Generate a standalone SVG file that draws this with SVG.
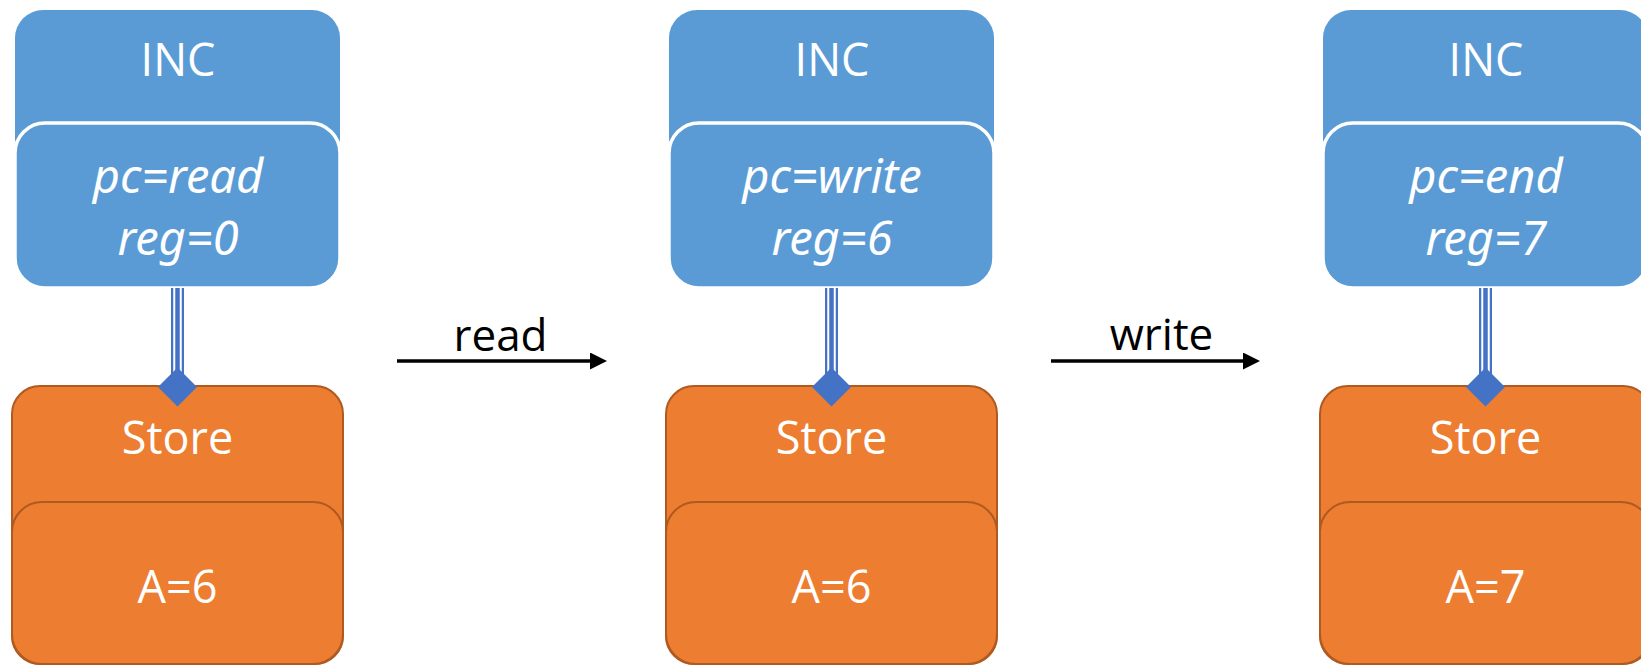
<svg xmlns="http://www.w3.org/2000/svg" width="1641" height="667" viewBox="0 0 1641 667">
  <style>
    .inc-outer { fill: #5B9BD5; }
    .inc-inner { fill: #5B9BD5; stroke: #FFFFFF; stroke-width: 3.5; }
    .store-outer { fill: #ED7D31; stroke: #AE5A21; stroke-width: 2; }
    .store-inner { fill: #ED7D31; stroke: #AE5A21; stroke-width: 2; }
    .label { font-family: "Open Sans", "Noto Sans", sans-serif; font-size: 45px; fill: #FFFFFF; text-anchor: middle; }
    .state { font-family: "Noto Sans", "Open Sans", sans-serif; font-style: italic; font-size: 47px; }
    .edge-label { font-family: "Open Sans", "Noto Sans", sans-serif; font-size: 44px; fill: #000000; text-anchor: middle; }
    .link-outer { stroke: #4472C4; stroke-width: 13; fill: none; }
    .link-gap { stroke: #FFFFFF; stroke-width: 8.5; fill: none; }
    .link-core { stroke: #4472C4; stroke-width: 4.5; fill: none; }
    .diamond { fill: #4472C4; }
    .step { stroke: #000000; stroke-width: 3.5; fill: none; }
  </style>
  <defs>
    <marker id="arrowhead" markerUnits="userSpaceOnUse" markerWidth="18" markerHeight="18" refX="0" refY="8.5" orient="auto">
      <path d="M0,0 L17,8.5 L0,17 Z" fill="#000000"/>
    </marker>
  </defs>

  <!-- Snapshot 1 -->
  <g id="inc-1">
    <rect class="inc-outer" x="15" y="10" width="325" height="278" rx="28"/>
    <rect class="inc-inner" x="15" y="123" width="325" height="165" rx="30"/>
    <text class="label" x="178" y="76">INC</text>
    <text class="label state" x="178" y="193">pc=read</text>
    <text class="label state" x="178" y="255">reg=0</text>
  </g>
  <g id="store-1">
    <rect class="store-outer" x="12" y="386" width="331" height="278" rx="28"/>
    <rect class="store-inner" x="12" y="502" width="331" height="162" rx="30"/>
    <text class="label" x="177.5" y="454">Store</text>
    <text class="label" x="177.5" y="603">A=6</text>
  </g>

  <!-- Snapshot 2 -->
  <g id="inc-2">
    <rect class="inc-outer" x="669" y="10" width="325" height="278" rx="28"/>
    <rect class="inc-inner" x="669" y="123" width="325" height="165" rx="30"/>
    <text class="label" x="832" y="76">INC</text>
    <text class="label state" x="832" y="193">pc=write</text>
    <text class="label state" x="832" y="255">reg=6</text>
  </g>
  <g id="store-2">
    <rect class="store-outer" x="666" y="386" width="331" height="278" rx="28"/>
    <rect class="store-inner" x="666" y="502" width="331" height="162" rx="30"/>
    <text class="label" x="831.5" y="454">Store</text>
    <text class="label" x="831.5" y="603">A=6</text>
  </g>

  <!-- Snapshot 3 -->
  <g id="inc-3">
    <rect class="inc-outer" x="1323" y="10" width="325" height="278" rx="28"/>
    <rect class="inc-inner" x="1323" y="123" width="325" height="165" rx="30"/>
    <text class="label" x="1486" y="76">INC</text>
    <text class="label state" x="1486" y="193">pc=end</text>
    <text class="label state" x="1486" y="255">reg=7</text>
  </g>
  <g id="store-3">
    <rect class="store-outer" x="1320" y="386" width="331" height="278" rx="28"/>
    <rect class="store-inner" x="1320" y="502" width="331" height="162" rx="30"/>
    <text class="label" x="1485.5" y="454">Store</text>
    <text class="label" x="1485.5" y="603">A=7</text>
  </g>

  <!-- Connectors: composition links and transition arrows -->
  <g id="connectors">
    <g id="link-1">
      <line class="link-outer" x1="177.5" y1="288" x2="177.5" y2="375"/>
      <line class="link-gap" x1="177.5" y1="288" x2="177.5" y2="375"/>
      <line class="link-core" x1="177.5" y1="288" x2="177.5" y2="375"/>
      <polygon class="diamond" points="177.5,367.5 197,387 177.5,406.5 158,387"/>
    </g>
    <g id="link-2">
      <line class="link-outer" x1="831.5" y1="288" x2="831.5" y2="375"/>
      <line class="link-gap" x1="831.5" y1="288" x2="831.5" y2="375"/>
      <line class="link-core" x1="831.5" y1="288" x2="831.5" y2="375"/>
      <polygon class="diamond" points="831.5,367.5 851,387 831.5,406.5 812,387"/>
    </g>
    <g id="link-3">
      <line class="link-outer" x1="1485.5" y1="288" x2="1485.5" y2="375"/>
      <line class="link-gap" x1="1485.5" y1="288" x2="1485.5" y2="375"/>
      <line class="link-core" x1="1485.5" y1="288" x2="1485.5" y2="375"/>
      <polygon class="diamond" points="1485.5,367.5 1505,387 1485.5,406.5 1466,387"/>
    </g>
    <g id="step-read">
      <line class="step" x1="397" y1="361" x2="590" y2="361" marker-end="url(#arrowhead)"/>
      <text class="edge-label" x="500.5" y="351">read</text>
    </g>
    <g id="step-write">
      <line class="step" x1="1051" y1="361" x2="1243" y2="361" marker-end="url(#arrowhead)"/>
      <text class="edge-label" x="1161.5" y="350">write</text>
    </g>
  </g>
</svg>
